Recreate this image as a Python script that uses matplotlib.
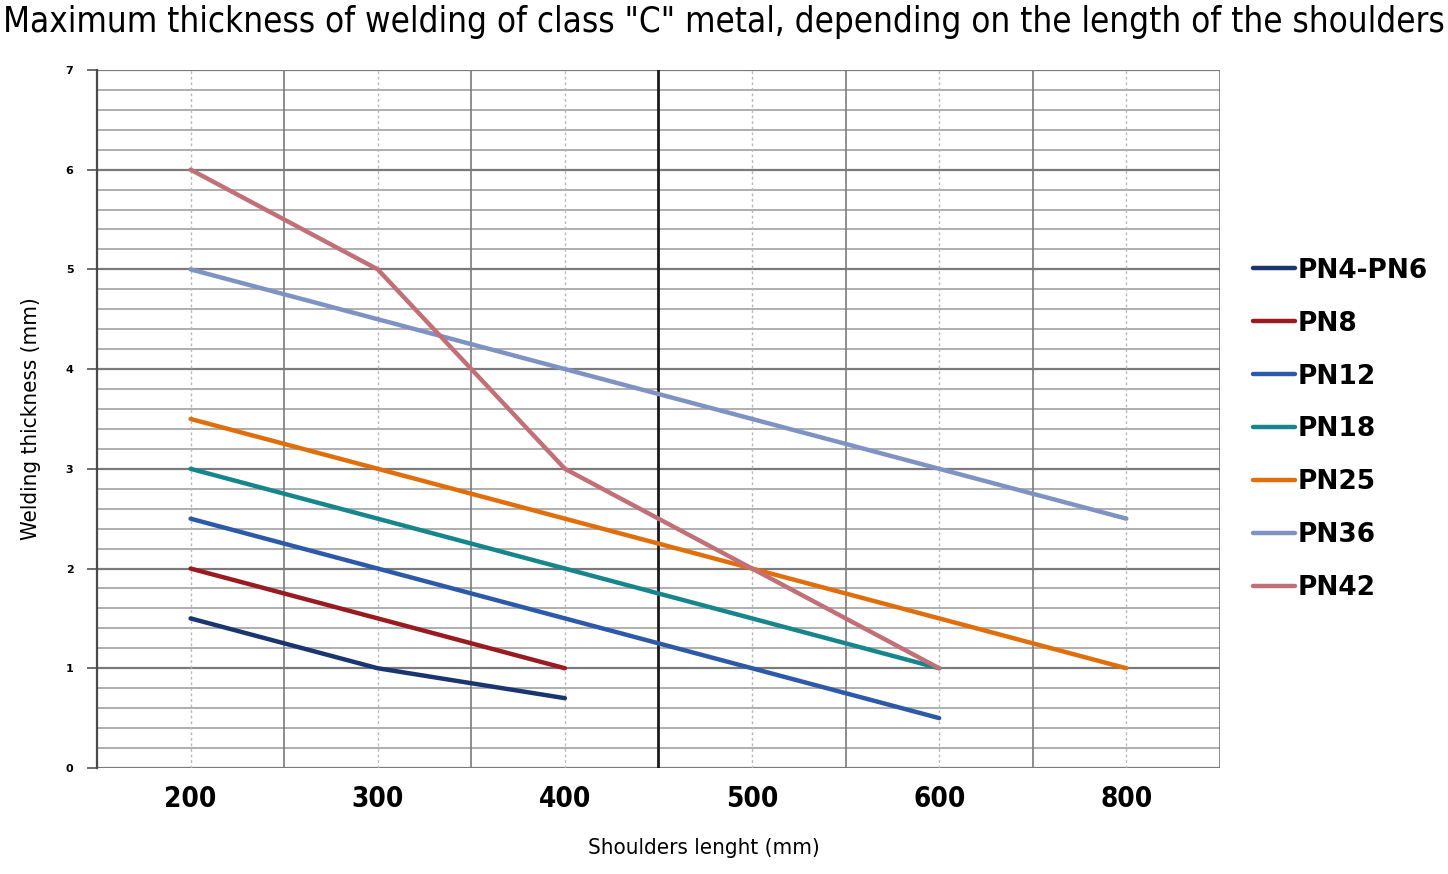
import numpy as np
import matplotlib.pyplot as plt

# shoulder lengths (category axis) and welding thickness per class
lengths = ["200", "300", "400", "500", "600", "800"]

pn4_pn6 = [1.5, 1.0, 0.7, None, None, None]
pn8 = [2.0, 1.5, 1.0, None, None, None]
pn12 = [2.5, 2.0, 1.5, 1.0, 0.5, None]
pn18 = [3.0, 2.5, 2.0, 1.5, 1.0, None]
pn25 = [3.5, 3.0, 2.5, 2.0, 1.5, 1.0]
pn36 = [5.0, 4.5, 4.0, 3.5, 3.0, 2.5]
pn42 = [6.0, 5.0, 3.0, 2.0, 1.0, None]

series_names = ["PN4-PN6", "PN8", "PN12", "PN18", "PN25", "PN36", "PN42"]
series_values = [pn4_pn6, pn8, pn12, pn18, pn25, pn36, pn42]
series_colors = ["#1b3570", "#9a1a22", "#2c5aa8", "#17868c", "#e06e0a", "#7e93c4", "#c27078"]

FONT = ["DejaVu Sans"]


def to_xy(vals):
    xs, ys = [], []
    for i, v in enumerate(vals):
        if v is not None:
            xs.append(i)
            ys.append(v)
    return np.array(xs), np.array(ys)


fig = plt.figure(figsize=(14.48, 8.74), dpi=100)
ax = fig.add_axes([0.067, 0.1213, 0.7755, 0.7987])

x_idx = np.arange(len(lengths))

# horizontal grid
for y in np.arange(0, 7.01, 0.2):
    if abs(y - round(y)) < 1e-6:
        ax.axhline(y, color="#7a7a7a", lw=1.6, zorder=1)
    else:
        ax.axhline(y, color="#a8a8a8", lw=1.3, zorder=1)

# vertical grid: light at categories, darker between categories
for x in x_idx:
    ax.axvline(x, color="#b8b8b8", lw=1.0, ls=(0, (2, 2)), zorder=1)
for x in np.arange(-0.5, len(lengths), 1.0):
    if abs(x - 2.5) < 1e-6:
        ax.axvline(x, color="#1a1a1a", lw=2.0, zorder=1)
    else:
        ax.axvline(x, color="#7a7a7a", lw=1.2, zorder=1)

for name, vals, col in zip(series_names, series_values, series_colors):
    xs, ys = to_xy(vals)
    ax.plot(xs, ys, color=col, lw=3.2, label=name, zorder=3, solid_capstyle="round")

ax.set_xlim(-0.5, len(lengths) - 0.5)
ax.set_ylim(0, 7)

ax.set_xticks(x_idx)
ax.set_xticklabels(lengths, fontsize=20, fontweight="bold", family=FONT, fontstretch="condensed")
ax.tick_params(axis="x", length=0, pad=12)

ax.set_yticks(np.arange(0, 8, 1))
ax.set_yticklabels([str(v) for v in range(8)], fontsize=8, fontweight="bold", family=FONT)
ax.tick_params(axis="y", length=7, width=1.2, color="#555555", pad=10)

for side in ["top", "right", "bottom"]:
    ax.spines[side].set_visible(False)
ax.spines["left"].set_color("#4a4a4a")
ax.spines["left"].set_linewidth(1.6)

ax.set_xlabel("Shoulders lenght (mm)", fontsize=16, family=FONT, fontstretch="condensed")
ax.xaxis.set_label_coords(0.54, -0.1)
ax.set_ylabel("Welding thickness (mm)", fontsize=16, family=FONT, fontstretch="condensed")
ax.yaxis.set_label_coords(-0.05, 0.5)

fig.text(0.5, 0.975, 'Maximum thickness of welding of class "C" metal, depending on the length of the shoulders',
         ha="center", va="center", fontsize=25, family=FONT, fontstretch="condensed")

leg = ax.legend(loc="upper left", bbox_to_anchor=(1.008, 0.765), frameon=False,
                prop={"family": FONT, "size": 19, "weight": "bold"},
                handlelength=1.6, handletextpad=0.1, labelspacing=1.02)

fig.savefig("out.png", dpi=100, facecolor="white")
